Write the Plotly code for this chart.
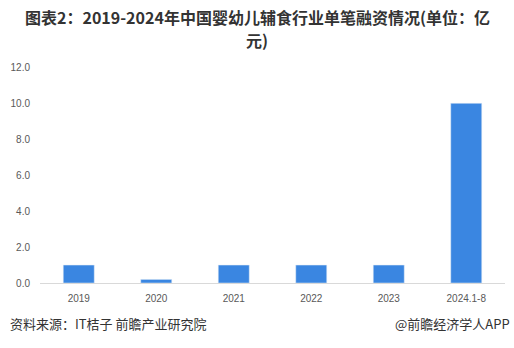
import plotly.graph_objects as go

categories = ["2019", "2020", "2021", "2022", "2023", "2024.1-8"]
values = [1.0, 0.2, 1.0, 1.0, 1.0, 10.0]
y_ticks = [0, 2, 4, 6, 8, 10, 12]
y_tick_labels = ["0.0", "2.0", "4.0", "6.0", "8.0", "10.0", "12.0"]

fig = go.Figure(go.Bar(x=categories, y=values, marker_color="#3A86E1", width=0.4))

cjk = "Noto Sans CJK SC"
tickfam = "Liberation Sans"
fig.update_layout(
    width=514, height=348,
    margin=dict(l=40, r=9, t=67, b=65),
    paper_bgcolor="white", plot_bgcolor="white",
    showlegend=False,
    font=dict(family=cjk, color="#595959"),
)
fig.update_xaxes(showline=True, linecolor="#D9D9D9", linewidth=1, ticks="outside", ticklen=6,
                 tickcolor="rgba(0,0,0,0)",
                 tickfont=dict(family=tickfam, size=10, color="#595959"), showgrid=False)
fig.update_yaxes(range=[0, 12.02], tickmode="array", tickvals=y_ticks, ticktext=y_tick_labels,
                 showgrid=False, zeroline=False, showline=False,
                 ticks="outside", ticklen=7, tickcolor="rgba(0,0,0,0)",
                 tickfont=dict(family=tickfam, size=10, color="#595959"))

fig.add_annotation(text="<b>图表2：2019-2024年中国婴幼儿辅食行业单笔融资情况(单位：亿</b>",
                   xref="paper", yref="paper", x=(257-40)/465, xanchor="center",
                   y=1, yanchor="middle", yshift=67-17, showarrow=False,
                   font=dict(family=cjk, size=16, color="#333333"))
fig.add_annotation(text="<b>元)</b>",
                   xref="paper", yref="paper", x=(257-40)/465, xanchor="center",
                   y=1, yanchor="middle", yshift=67-40, showarrow=False,
                   font=dict(family=cjk, size=16, color="#333333"))
fig.add_annotation(text="资料来源：IT桔子 前瞻产业研究院", xref="paper", yref="paper",
                   x=0, xanchor="left", xshift=-32, y=0, yanchor="middle", yshift=-40,
                   showarrow=False, font=dict(family=cjk, size=13, color="#333333"))
fig.add_annotation(text="@前瞻经济学人APP", xref="paper", yref="paper",
                   x=1, xanchor="right", xshift=7, y=0, yanchor="middle", yshift=-40,
                   showarrow=False, font=dict(family=cjk, size=13, color="#333333"))

fig.write_html("out.html")
